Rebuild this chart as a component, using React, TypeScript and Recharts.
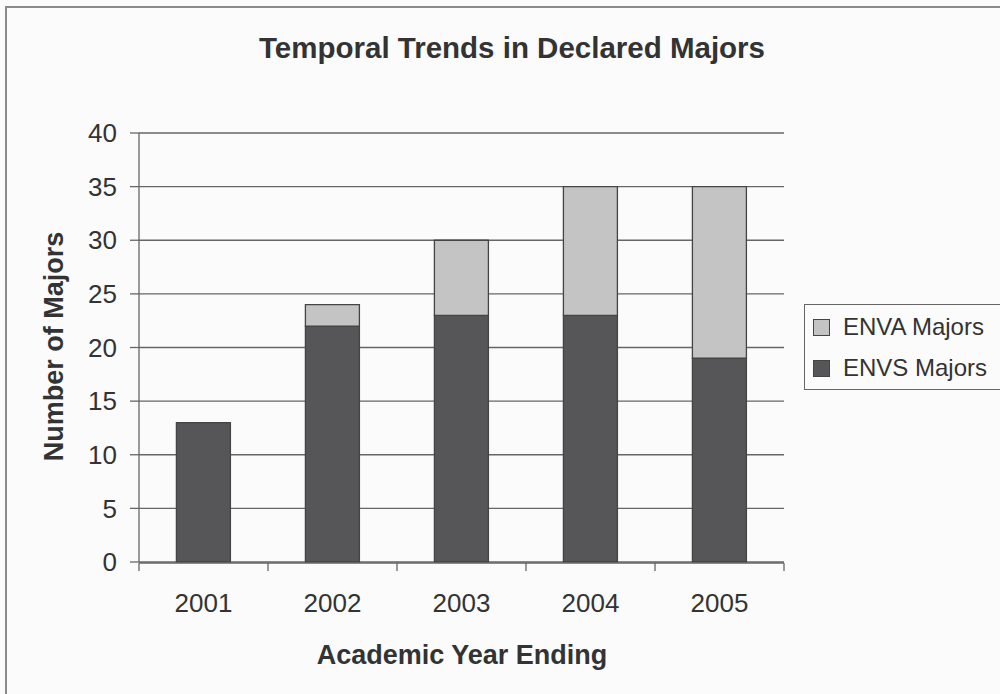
import { BarChart, Bar, XAxis, YAxis, CartesianGrid } from 'recharts';

const years = ['2001', '2002', '2003', '2004', '2005'];
const envsMajors = [13, 22, 23, 23, 19];
const envaMajors = [0, 2, 7, 12, 16];
const yTicks = [0, 5, 10, 15, 20, 25, 30, 35, 40];
const edgeTicks = [0, 1, 2, 3, 4, 5];

const data = years.map((year, i) => ({
  year,
  pos: i,
  envs: envsMajors[i],
  enva: envaMajors[i],
}));

const FONT = '"Liberation Sans", Arial, sans-serif';
const TEXT = '#333';
const LINE = '#666';
const DARK = '#565658';
const LIGHT = '#c4c4c4';

const legendItems = [
  { label: 'ENVA Majors', color: LIGHT },
  { label: 'ENVS Majors', color: DARK },
];

const LegendBox = () => (
  <div
    style={{
      position: 'absolute',
      left: 804,
      top: 304,
      width: 230,
      height: 86,
      border: `1.5px solid ${LINE}`,
      fontFamily: FONT,
      fontSize: 24,
      color: TEXT,
      boxSizing: 'border-box',
    }}
  >
    {legendItems.map((item, i) => (
      <div
        key={item.label}
        style={{
          position: 'absolute',
          left: 8,
          top: 10 + i * 41,
          height: 24,
          lineHeight: '24px',
          display: 'flex',
          alignItems: 'center',
          whiteSpace: 'nowrap',
        }}
      >
        <span
          style={{
            display: 'inline-block',
            width: 15,
            height: 15,
            background: item.color,
            border: '1px solid #444',
            marginRight: 13,
          }}
        />
        {item.label}
      </div>
    ))}
  </div>
);

export default function App() {
  return (
    <div
      style={{
        position: 'fixed',
        left: 0,
        top: 0,
        width: 1000,
        height: 694,
        overflow: 'hidden',
        background: '#fbfbfb',
        fontFamily: FONT,
      }}
    >
      <div
        style={{
          position: 'absolute',
          left: 5,
          top: 6,
          width: 1010,
          height: 710,
          border: '2px solid #8a8a8a',
        }}
      />
      <div
        style={{
          position: 'absolute',
          left: 212,
          top: 33,
          width: 600,
          textAlign: 'center',
          fontSize: 29.5,
          lineHeight: '29.5px',
          fontWeight: 'bold',
          color: TEXT,
          whiteSpace: 'nowrap',
        }}
      >
        Temporal Trends in Declared Majors
      </div>
      <div
        style={{
          position: 'absolute',
          left: 262,
          top: 642,
          width: 400,
          textAlign: 'center',
          fontSize: 27,
          lineHeight: '27px',
          fontWeight: 'bold',
          color: TEXT,
          whiteSpace: 'nowrap',
        }}
      >
        Academic Year Ending
      </div>
      <div
        style={{
          position: 'absolute',
          left: 54 - 150,
          top: 346 - 13.5,
          width: 300,
          height: 27,
          textAlign: 'center',
          fontSize: 27,
          lineHeight: '27px',
          fontWeight: 'bold',
          color: TEXT,
          whiteSpace: 'nowrap',
          transform: 'rotate(-90deg)',
        }}
      >
        Number of Majors
      </div>
      <LegendBox />
      <div style={{ position: 'absolute', left: 0, top: 0 }}>
        <BarChart
          width={1000}
          height={694}
          data={data}
          margin={{ top: 133, right: 216, bottom: 0, left: 0 }}
          barCategoryGap="29%"
        >
          <CartesianGrid horizontal vertical={false} stroke={LINE} strokeWidth={1.3} />
          <XAxis
            dataKey="year"
            height={1}
            tickLine={false}
            tickSize={0}
            tickMargin={32}
            axisLine={false}
            tick={{ fontSize: 26, fill: TEXT, fontFamily: FONT }}
          />
          <XAxis
            xAxisId="edge"
            type="number"
            dataKey="pos"
            domain={[0, 5]}
            ticks={edgeTicks}
            interval={0}
            tickFormatter={() => ''}
            tickSize={8}
            tickLine={{ stroke: LINE, strokeWidth: 1.3 }}
            axisLine={{ stroke: LINE, strokeWidth: 1.3 }}
            height={131}
            allowDataOverflow
          />
          <YAxis
            domain={[0, 40]}
            ticks={yTicks}
            width={139}
            tickSize={9}
            tickMargin={13}
            interval={0}
            tick={{ fontSize: 26, fill: TEXT, fontFamily: FONT }}
            tickLine={{ stroke: LINE, strokeWidth: 1.3 }}
            axisLine={{ stroke: LINE, strokeWidth: 1.3 }}
          />
          <YAxis
            yAxisId="right"
            orientation="right"
            domain={[0, 40]}
            width={0}
            tick={false}
            tickLine={false}
            axisLine={{ stroke: LINE, strokeWidth: 1.3 }}
          />
          <Bar dataKey="envs" stackId="a" fill={DARK} stroke="#444" strokeWidth={1.3} isAnimationActive={false} />
          <Bar dataKey="enva" stackId="a" fill={LIGHT} stroke="#444" strokeWidth={1.3} isAnimationActive={false} />
        </BarChart>
      </div>
    </div>
  );
}
